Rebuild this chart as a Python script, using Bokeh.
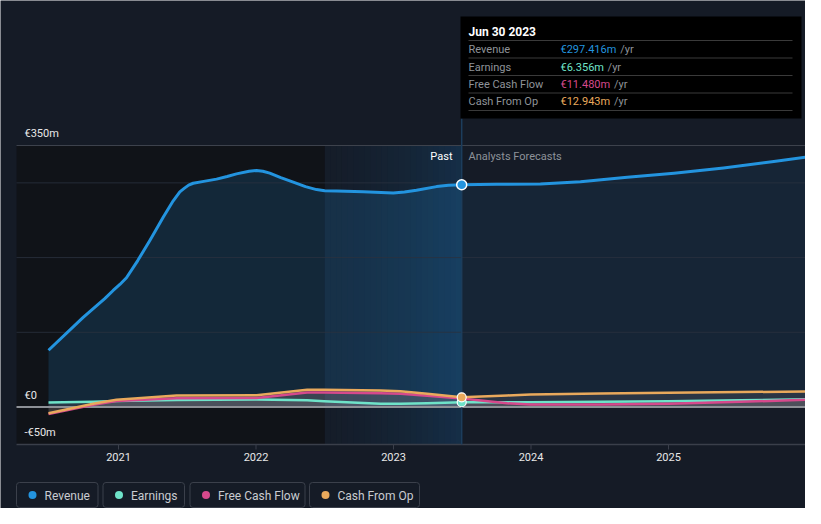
from bokeh.plotting import figure
from bokeh.models import Range1d
from bokeh.embed import file_html
from bokeh.resources import INLINE
from bokeh.core.properties import value

# ---------------- data ----------------
rev_years = [2020.491, 2020.743, 2020.900, 2020.961, 2021.010, 2021.058, 2021.140, 2021.228, 2021.325,
             2021.398, 2021.446, 2021.480, 2021.510, 2021.543, 2021.620, 2021.713, 2021.790, 2021.858,
             2021.950, 2022.004, 2022.050, 2022.100, 2022.180, 2022.271, 2022.360, 2022.440, 2022.500,
             2022.586, 2022.780, 2022.998, 2023.080, 2023.167, 2023.313, 2023.400, 2023.496]
rev_vals = [76, 120, 145, 156, 164, 173, 196, 223, 254, 276, 288, 293, 297, 299.5, 302, 305, 308.5,
            312, 315.5, 316.5, 315.5, 313, 307, 301, 295, 291, 289.5, 289, 288, 286.6, 287.8, 290,
            295, 296.8, 297.416]

fc_rev_years = [2023.496, 2023.75, 2024.069, 2024.36, 2024.70, 2025.04, 2025.40, 2025.766, 2025.996]
fc_rev_vals = [297.416, 298, 298.6, 301.4, 307.5, 313, 320, 328.5, 334.3]

small_years = [2020.491, 2020.816, 2020.985, 2021.422, 2022.004, 2022.372, 2022.495, 2022.905,
               2023.051, 2023.245, 2023.496]
earn_vals = [6, 7, 8, 9.5, 10, 9, 7.8, 4.3, 4.5, 5, 6.356]
fcf_vals = [-9.5, 3, 8, 11.8, 12, 19.4, 19.5, 18.5, 17.7, 15, 11.48]
cfo_vals = [-8.3, 4.3, 9.6, 15.4, 15.8, 23, 23, 22, 21, 17.7, 12.943]

fc_small_years = [2023.496, 2023.827, 2023.996, 2024.505, 2025.0, 2025.524, 2025.996]
fc_earn_vals = [6.356, 6.4, 6.4, 7, 7.8, 9, 10.4]
fc_fcf_vals = [11.48, 5, 3.3, 3.5, 4.3, 7, 9.6]
fc_cfo_vals = [12.943, 15.5, 16.7, 18, 19, 20, 20.7]

year_ticks = [2021, 2022, 2023, 2024, 2025]
year_labels = ["2021", "2022", "2023", "2024", "2025"]
y_label_vals = [350, 0, -50]
y_label_texts = ["€350m", "€0", "-€50m"]
grid_vals = [100, 200, 300]

series_names = ["Revenue", "Earnings", "Free Cash Flow", "Cash From Op"]
series_colors = ["#2394df", "#6fe3c9", "#d6498c", "#e9a95c"]
tip_date = "Jun 30 2023"
tip_values = ["€297.416m", "€6.356m", "€11.480m", "€12.943m"]
marker_year = 2023.496
forecast_start = 2023.496
highlight_start = 2022.5

FONT = "Roboto"
BG = "#151b26"
W, H = 805, 508

# ---------------- geometry helpers (screen px of the picture) ----------------
PX_2021, PX_YEAR = 118, 137.5
ZERO_PX, PX_PER_M = 406.5, 0.7471


def px_x(px):
    return 2021 + (px - PX_2021) / PX_YEAR


def px_y(py):
    return (ZERO_PX - py) / PX_PER_M


XL, XR = px_x(16), px_x(805)
YB = px_y(444)

p = figure(width=W, height=H, x_range=Range1d(px_x(0), px_x(W)), y_range=Range1d(px_y(H), px_y(0)),
           output_backend="svg", toolbar_location=None, min_border=0,
           background_fill_color=BG, border_fill_color=BG, outline_line_color=None)
p.grid.visible = False
p.axis.visible = False

top350 = y_label_vals[0]
# darker past background
p.quad(left=[XL], right=[highlight_start], bottom=[YB], top=[top350], fill_color="#101318",
       line_color=None)
# highlight gradient (last 12 months)
n = 24
w = (forecast_start - highlight_start) / n
for i in range(n):
    a = 0.03 + 0.22 * (i / (n - 1)) ** 1.5
    p.quad(left=[highlight_start + i * w], right=[highlight_start + (i + 1) * w + 0.0005],
           bottom=[YB], top=[top350], fill_color="#1668a8", fill_alpha=a, line_color=None)

# revenue fills
p.varea(x=rev_years, y1=[0] * len(rev_years), y2=rev_vals, fill_color="#2394df", fill_alpha=0.17)
p.varea(x=fc_rev_years, y1=[0] * len(fc_rev_years), y2=fc_rev_vals, fill_color="#2394df",
        fill_alpha=0.09)

# small series fills
for ys, vs in [(small_years, cfo_vals), (small_years, fcf_vals), (small_years, earn_vals),
               (fc_small_years, fc_cfo_vals), (fc_small_years, fc_fcf_vals),
               (fc_small_years, fc_earn_vals)]:
    p.varea(x=ys, y1=[0] * len(ys), y2=vs, fill_color="#b8a0a0", fill_alpha=0.13)

# gridlines
p.segment(x0=[XL] * 3, x1=[XR] * 3, y0=grid_vals, y1=grid_vals, line_color="#2a323e", line_width=1,
          line_alpha=0.8)
p.segment(x0=[XL], x1=[XR], y0=[top350], y1=[top350], line_color="#3d424c", line_width=1)
p.segment(x0=[XL], x1=[XR], y0=[0], y1=[0], line_color="#8d9096", line_width=2)

# x axis (drawn through the scale)
p.segment(x0=[XL], x1=[XR], y0=[YB], y1=[YB], line_color="#3a3f4a", line_width=1.5)
p.segment(x0=year_ticks, x1=year_ticks, y0=[YB] * 5, y1=[px_y(449)] * 5, line_color="#3a3f4a",
          line_width=1)
p.text(x=year_ticks, y=[px_y(456.5)] * 5, text=year_labels, text_color="#e8e8e8",
       text_font=value(FONT), text_font_size="11px", text_baseline="middle", text_align="center")

# vertical line at marker
p.segment(x0=[marker_year], x1=[marker_year], y0=[YB], y1=[px_y(118)], line_color="#1c3d5c",
          line_width=1.5)

# lines
p.line(rev_years, rev_vals, line_color=series_colors[0], line_width=3, line_join="round")
p.line(fc_rev_years, fc_rev_vals, line_color=series_colors[0], line_width=3, line_join="round")
for ys, vs, c in [(small_years, earn_vals, series_colors[1]), (small_years, fcf_vals, series_colors[2]),
                  (small_years, cfo_vals, series_colors[3]),
                  (fc_small_years, fc_earn_vals, series_colors[1]),
                  (fc_small_years, fc_fcf_vals, series_colors[2]),
                  (fc_small_years, fc_cfo_vals, series_colors[3])]:
    p.line(ys, vs, line_color=c, line_width=2.5, line_join="round")

# markers
p.scatter([marker_year], [rev_vals[-1]], size=10, fill_color=series_colors[0], line_color="white",
          line_width=1.5)
p.scatter([marker_year], [earn_vals[-1]], size=9, fill_color=series_colors[1], line_color="white",
          line_width=1.2)
p.scatter([marker_year], [cfo_vals[-1]], size=9, fill_color=series_colors[3], line_color="white",
          line_width=1.2)

# y labels
p.text(x=[px_x(24)] * 3, y=[v + 12 / PX_PER_M for v in y_label_vals], text=y_label_texts,
       text_color="#e8e8e8", text_font=value(FONT), text_font_size="11px", text_baseline="middle",
       text_align="left")

# past / forecast labels
p.text(x=[px_x(452)], y=[px_y(156)], text=["Past"], text_color="#ffffff", text_font=value(FONT),
       text_font_size="11px", text_baseline="middle", text_align="right")
p.text(x=[px_x(468)], y=[px_y(156)], text=["Analysts Forecasts"], text_color="#8d9299",
       text_font=value(FONT), text_font_size="11px", text_baseline="middle", text_align="left")

# tooltip box
p.quad(left=[px_x(460)], right=[px_x(801)], top=[px_y(16)], bottom=[px_y(118)], fill_color="#000000",
       line_color=None)
p.text(x=[px_x(468)], y=[px_y(31)], text=[tip_date], text_color="#ffffff", text_font=value(FONT),
       text_font_size="12px", text_baseline="middle", text_align="left", text_font_style="bold")
sep_y = [40, 57.5, 75, 92.5, 110]
p.segment(x0=[px_x(468)] * 5, x1=[px_x(792)] * 5, y0=[px_y(s) for s in sep_y],
          y1=[px_y(s) for s in sep_y], line_color="#3a3a3a", line_width=1)
row_y = [49, 66.5, 84, 101]
p.text(x=[px_x(468)] * 4, y=[px_y(r) for r in row_y], text=series_names, text_color="#8f9399",
       text_font=value(FONT), text_font_size="11px", text_baseline="middle", text_align="left")
val_w = [px_x(560 + 6.3 * len(v) + 3) for v in tip_values]
for i in range(4):
    p.text(x=[px_x(560)], y=[px_y(row_y[i])], text=[tip_values[i]], text_color=series_colors[i],
           text_font=value(FONT), text_font_size="11px", text_baseline="middle", text_align="left")
    p.text(x=[val_w[i]], y=[px_y(row_y[i])], text=["/yr"], text_color="#8f9399",
           text_font=value(FONT), text_font_size="11px", text_baseline="middle", text_align="left")

# ---------------- legend ----------------
box_l = [16, 102.5, 189.5, 309]
box_r = [97.5, 184, 304.5, 419]
LT, LB = 482, 507
p.quad(left=[px_x(b) for b in box_l], right=[px_x(b) for b in box_r], top=[px_y(LT)] * 4,
       bottom=[px_y(LB)] * 4, fill_color=None, line_color="#3b404b", line_width=1, border_radius=3)
p.scatter([px_x(b + 16) for b in box_l], [px_y((LT + LB) / 2)] * 4, size=8, fill_color=series_colors,
          line_color=None)
p.text(x=[px_x(b + 28) for b in box_l], y=[px_y((LT + LB) / 2 + 0.5)] * 4, text=series_names,
       text_color="#c9ccd1", text_font=value(FONT), text_font_size="12px", text_baseline="middle",
       text_align="left")

open("out.html", "w").write(file_html(p, INLINE))
